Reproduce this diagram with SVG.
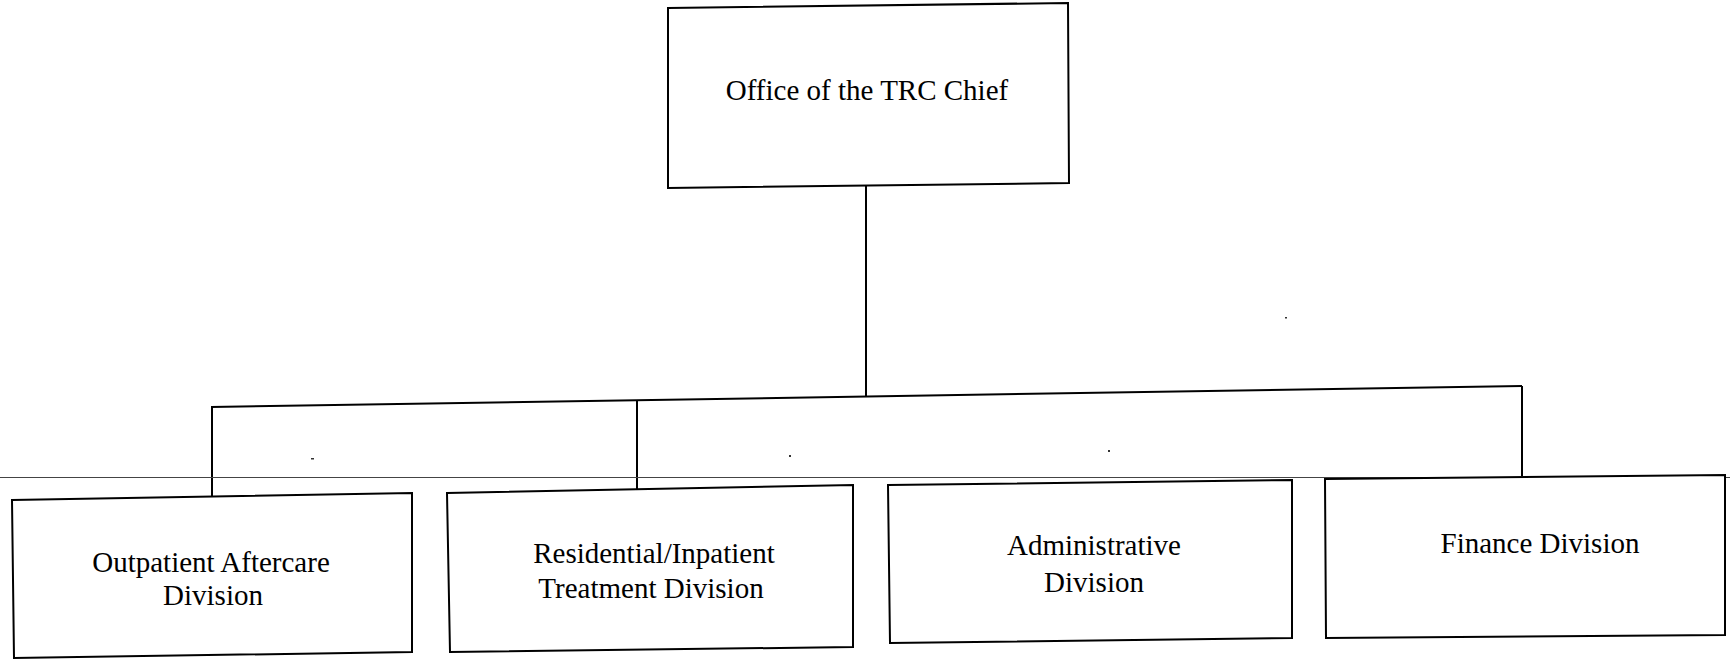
<svg xmlns="http://www.w3.org/2000/svg" width="1730" height="660" viewBox="0 0 1730 660">
<style>
.box{fill:#fff;stroke:#000;stroke-width:2;stroke-linejoin:miter}
.lbl{font-family:"Liberation Serif","Times New Roman",serif;font-size:29px;fill:#000;text-anchor:middle}
.conn{stroke:#000;stroke-width:2;fill:none}
.speck{fill:#333}
</style>
<rect width="1730" height="660" fill="#fff"/>
<g id="connectors">
<line class="conn" x1="866" y1="185" x2="866" y2="397"/>
<line class="conn" x1="211" y1="407" x2="1522" y2="386"/>
<line class="conn" x1="212" y1="406" x2="212" y2="498"/>
<line class="conn" x1="637" y1="400" x2="637" y2="489"/>
<line class="conn" x1="1522" y1="386" x2="1522" y2="476"/>
</g>
<line x1="0" y1="477.5" x2="1730" y2="477.5" stroke="#444" stroke-width="1"/>
<g id="trc-chief">
<polygon class="box" points="668,8 1068,3 1069,183 668,188"/>
<text class="lbl" x="867" y="100">Office of the TRC Chief</text>
</g>
<g id="outpatient">
<polygon class="box" points="12,500 412,493 412,652 14,658"/>
<text class="lbl" x="211" y="572">Outpatient Aftercare</text>
<text class="lbl" x="213" y="605">Division</text>
</g>
<g id="residential">
<polygon class="box" points="447,493 853,485 853,647 450,652"/>
<text class="lbl" x="654" y="563">Residential/Inpatient</text>
<text class="lbl" x="651" y="598">Treatment Division</text>
</g>
<g id="administrative">
<polygon class="box" points="888,485 1292,480 1292,638 890,643"/>
<text class="lbl" x="1094" y="555">Administrative</text>
<text class="lbl" x="1094" y="592">Division</text>
</g>
<g id="finance">
<polygon class="box" points="1325,479 1725,475 1725,635 1326,638"/>
<text class="lbl" x="1540" y="553">Finance Division</text>
</g>
<rect class="speck" x="311" y="458" width="3" height="1.5"/>
<rect class="speck" x="789" y="455" width="2" height="2"/>
<rect class="speck" x="1108" y="450" width="2" height="2"/>
<rect class="speck" x="1285" y="317" width="2" height="1.5"/>
</svg>
